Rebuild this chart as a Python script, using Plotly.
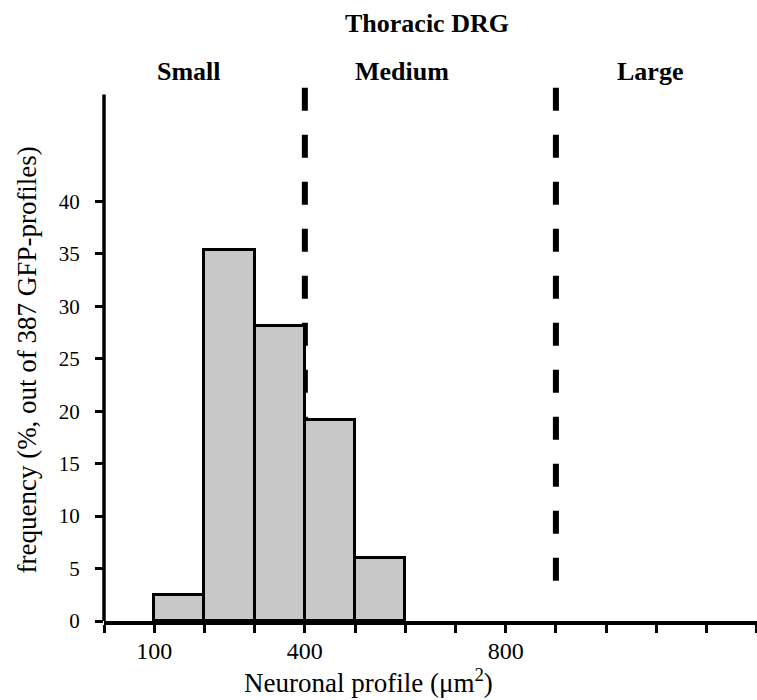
import plotly.graph_objects as go

# ---- data ----
bin_left = [100, 200, 300, 400, 500]           # neuronal profile bins (um^2), width 100
bin_width = 100
frequency = [2.46, 35.33, 28.09, 19.2, 6.02]    # % of 387 GFP profiles

size_thresholds = [400, 900]                    # Small/Medium and Medium/Large boundaries
threshold_y_span = [3.7, 50.83]                 # vertical extent of the dashed boundary lines

class_labels = ["Small", "Medium", "Large"]
class_label_x = [170, 593, 1088]

x_tickvals = list(range(0, 1301, 100))
x_ticktext = ["" if v not in (100, 400, 800) else str(v) for v in x_tickvals]
y_tickvals = [0, 5, 10, 15, 20, 25, 30, 35, 40]
y_axis_top = 50.2

SERIF = "Liberation Serif, Times New Roman, serif"

fig = go.Figure()
fig.add_trace(go.Bar(
    x=bin_left, y=frequency, width=bin_width, offset=0,
    marker=dict(color="#c8c8c8", line=dict(color="black", width=3)),
    showlegend=False, hoverinfo="skip",
))

# dashed size-class boundaries
for t in size_thresholds:
    fig.add_shape(type="line", xref="x", yref="y",
                  x0=t, x1=t, y0=threshold_y_span[1], y1=threshold_y_span[0],
                  line=dict(color="black", width=6, dash="23px,24px"),
                  layer="below")

# y axis line (shorter than plot area)
fig.add_shape(type="line", xref="paper", yref="y", x0=0, x1=0, y0=0, y1=y_axis_top,
              line=dict(color="black", width=3.5), layer="above")

annotations = []
for lab, lx in zip(class_labels, class_label_x):
    annotations.append(dict(text=f"<b>{lab}</b>", x=lx, xref="x", y=1.0267, yref="paper",
                            xanchor="center", yanchor="middle", showarrow=False,
                            font=dict(family=SERIF, size=26, color="black")))
annotations.append(dict(text="<b>Thoracic DRG</b>", x=0.4947, xref="paper", y=1.1164, yref="paper",
                        xanchor="center", yanchor="middle", showarrow=False,
                        font=dict(family=SERIF, size=26, color="black")))
annotations.append(dict(text="Neuronal profile (μm<sup>2</sup>)", x=0.4045, xref="paper",
                        y=-0.113, yref="paper", xanchor="center", yanchor="middle",
                        showarrow=False, font=dict(family=SERIF, size=27, color="black")))
annotations.append(dict(text="frequency (%, out of 387 GFP-profiles)", x=-0.118, xref="paper",
                        y=0.4886, yref="paper", xanchor="center", yanchor="middle",
                        textangle=-90, showarrow=False,
                        font=dict(family=SERIF, size=27, color="black")))

fig.update_layout(
    width=757, height=700,
    margin=dict(l=104, r=0, t=86, b=79),
    paper_bgcolor="white", plot_bgcolor="white",
    bargap=0,
    annotations=annotations,
    xaxis=dict(range=[0, 1300.5], tickvals=x_tickvals, ticktext=x_ticktext,
               showgrid=False, zeroline=False, showline=True, linecolor="black", linewidth=3.5,
               ticks="outside", ticklen=8, tickwidth=2.5, tickcolor="black",
               ticklabelstandoff=-3,
               tickfont=dict(family=SERIF, size=24, color="black")),
    yaxis=dict(range=[0, 51], tickvals=y_tickvals,
               showgrid=False, zeroline=False, showline=False,
               ticks="outside", ticklen=8, tickwidth=2.5, tickcolor="black",
               ticklabelstandoff=11,
               tickfont=dict(family=SERIF, size=21, color="black")),
)

fig.write_html("out.html", config={"displayModeBar": False},
               post_script="document.body.style.margin='0';document.body.style.overflow='hidden';")
